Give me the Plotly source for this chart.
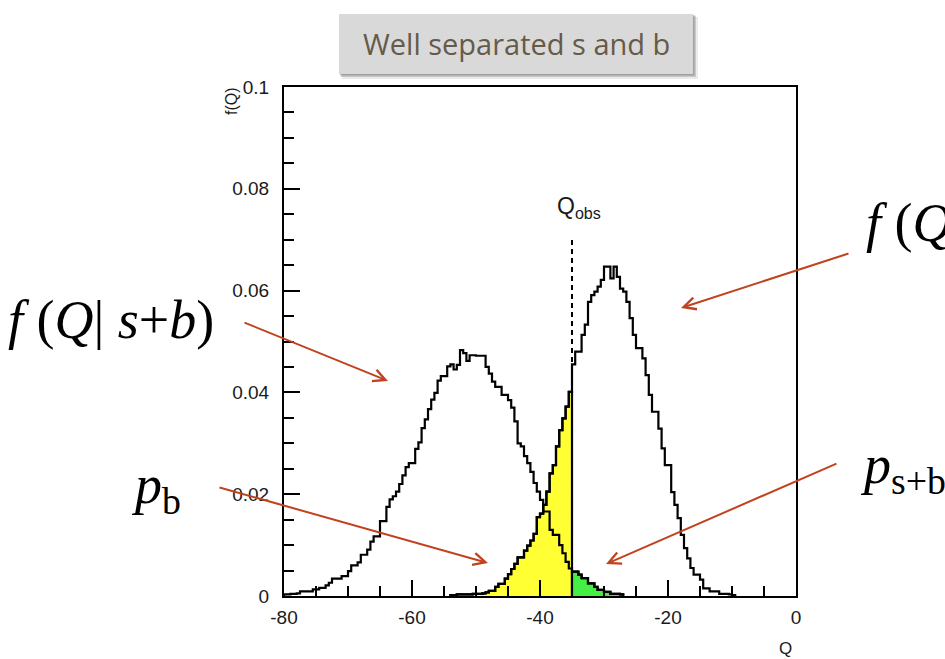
import numpy as np
import plotly.graph_objects as go

# ---------------- data ----------------
bin_width = 0.5
q_obs = -35.0
qobs_line_top = 0.070

# f(Q|s+b): bins start at Q = -80, values in units of 1e-3
sb_start = -80.0
sb_vals_milli = [
    0.3, 0.3, 0.4, 0.4, 0.5, 0.9, 0.9, 0.9, 0.9, 1.3,
    1.3, 1.6, 1.6, 2.1, 2.6, 3.4, 3.4, 3.4, 3.9, 3.9,
    4.9, 6.0, 6.0, 6.6, 8.1, 8.1, 9.1, 10.7, 11.7, 11.7,
    14.7, 14.7, 17.5, 19.0, 19.6, 20.5, 22.0, 23.7, 25.3, 26.1,
    26.1, 28.9, 30.2, 33.0, 34.7, 36.7, 38.6, 39.9, 42.3, 43.2,
    43.2, 45.1, 45.5, 44.5, 45.4, 48.3, 47.7, 46.2, 47.3, 47.3,
    47.2, 47.2, 47.2, 45.0, 43.7, 42.1, 41.1, 41.1, 39.5, 39.5,
    38.5, 37.0, 34.3, 30.0, 29.4, 27.5, 26.1, 24.4, 22.2, 20.5,
    18.9, 16.6, 16.6, 13.0, 12.0, 12.0, 10.0, 8.4, 6.7, 5.4,
    4.8, 4.8, 4.2, 3.5, 3.5, 2.5, 2.5, 1.8, 1.2, 1.2,
    0.8, 0.8, 0.4, 0.4, 0.4, 0.3,
]

# f(Q|b): bins start at Q = -54, values in units of 1e-3
b_start = -54.0
b_vals_milli = [
    0.2, 0.2, 0.3, 0.3, 0.3, 0.3, 0.3, 0.4, 0.4, 0.4,
    0.5, 0.7, 1.0, 1.0, 1.8, 2.4, 2.4, 3.4, 4.3, 5.3,
    6.3, 7.6, 7.6, 8.9, 9.9, 10.9, 12.2, 15.5, 16.2, 17.9,
    20.5, 24.1, 25.7, 29.4, 32.6, 34.9, 37.2, 40.1, 45.5, 48.0,
    48.0, 51.3, 53.3, 57.8, 59.1, 59.8, 60.8, 62.1, 64.7, 64.7,
    62.4, 64.7, 62.7, 60.4, 59.8, 57.8, 54.6, 51.3, 48.7, 48.7,
    46.7, 43.4, 39.5, 36.2, 36.2, 32.9, 29.0, 25.7, 25.7, 20.4,
    17.9, 15.3, 12.0, 9.4, 7.4, 5.5, 4.2, 4.2, 3.2, 1.5,
    1.5, 0.9, 0.9, 0.9, 0.4, 0.4, 0.4, 0.3, 0.2,
]

x_tickvals = [-80, -60, -40, -20, 0]
x_ticktext = ["-80", "-60", "-40", "-20", "0"]
y_tickvals = [0, 0.02, 0.04, 0.06, 0.08, 0.1]
y_ticktext = ["0", "0.02", "0.04", "0.06", "0.08", "0.1"]

title_text = "Well separated s and b"

# ---------------- helpers ----------------
W, H = 945, 659
PL, PR, PT, PB = 284, 796, 87, 596


def px(x):
    return (x - PL) / (PR - PL)


def py(y):
    return (PB - y) / (PB - PT)


def step_xy(start, vals):
    v = np.asarray(vals, dtype=float) / 1000.0
    e = start + bin_width * np.arange(len(v) + 1)
    xs = np.concatenate([[e[0]], e[:-1], [e[-1]], [e[-1]]])
    ys = np.concatenate([[0.0], v, [v[-1]], [0.0]])
    return xs, ys, e, v


sb_x, sb_y, sb_e, sb_v = step_xy(sb_start, sb_vals_milli)
b_x, b_y, b_e, b_v = step_xy(b_start, b_vals_milli)

# yellow: b for Q < Qobs ; green: s+b for Q > Qobs
b_mask = b_e[1:] <= q_obs + 1e-9
yb_x, yb_y, _, _ = step_xy(b_start, np.asarray(b_vals_milli)[b_mask])
sb_first = int(np.argmax(sb_e[:-1] >= q_obs - 1e-9))
g_x, g_y, _, _ = step_xy(sb_e[sb_first], np.asarray(sb_vals_milli)[sb_first:])

LW = 2.2
fig = go.Figure()
fig.add_trace(go.Scatter(x=yb_x, y=yb_y, mode="lines", line=dict(shape="hv", color="black", width=LW),
                         fill="tozeroy", fillcolor="#ffff33", hoverinfo="skip", showlegend=False))
fig.add_trace(go.Scatter(x=g_x, y=g_y, mode="lines", line=dict(shape="hv", color="black", width=LW),
                         fill="tozeroy", fillcolor="#44ee44", hoverinfo="skip", showlegend=False))
fig.add_trace(go.Scatter(x=sb_x, y=sb_y, mode="lines", line=dict(shape="hv", color="black", width=LW),
                         hoverinfo="skip", showlegend=False))
fig.add_trace(go.Scatter(x=b_x, y=b_y, mode="lines", line=dict(shape="hv", color="black", width=LW),
                         hoverinfo="skip", showlegend=False))

# Qobs dashed line
fig.add_shape(type="line", xref="x", yref="y", x0=q_obs, x1=q_obs, y0=0, y1=qobs_line_top,
              line=dict(color="black", width=2, dash="5px,4px"))

# title box with shadow
for off, alpha in [(5, 0.08), (3, 0.15), (1.5, 0.2)]:
    fig.add_shape(type="rect", xref="paper", yref="paper",
                  x0=px(339 + off * 0.6), x1=px(693 + off), y0=py(74 + off), y1=py(14 + off * 0.6),
                  line=dict(width=0), fillcolor=f"rgba(0,0,0,{alpha})", layer="above")
fig.add_shape(type="rect", xref="paper", yref="paper", x0=px(339), x1=px(693), y0=py(74), y1=py(14),
              line=dict(width=0), fillcolor="#d9d9d9", layer="above")

ann = []
ann.append(dict(x=px(516), y=py(44), xref="paper", yref="paper", text=title_text, showarrow=False,
                xanchor="center", yanchor="middle",
                font=dict(family="Open Sans", size=29, color="#665a48")))

# axis titles
tick_font = dict(family="Liberation Sans", size=19, color="#1a1a1a")
ann.append(dict(x=px(231), y=py(85), xref="paper", yref="paper", text="f(Q)", showarrow=False,
                textangle=-90, xanchor="center", yanchor="top",
                font=dict(family="Liberation Sans", size=16, color="#1a1a1a")))
ann.append(dict(x=px(785), y=py(648), xref="paper", yref="paper", text="Q", showarrow=False,
                xanchor="center", yanchor="middle",
                font=dict(family="Liberation Sans", size=17, color="#1a1a1a")))
ann.append(dict(x=px(579), y=py(207), xref="paper", yref="paper", text="Q<sub>obs</sub>", showarrow=False,
                xanchor="center", yanchor="middle",
                font=dict(family="Liberation Sans", size=23, color="#1a1a1a")))

serif = "Liberation Serif"
BIG = 54
ann.append(dict(x=px(6), y=py(320), xref="paper", yref="paper",
                text="<i>f</i> (<i>Q</i>| <i>s</i>+<i>b</i>)", showarrow=False,
                xanchor="left", yanchor="middle", font=dict(family=serif, size=BIG, color="black")))
ann.append(dict(x=px(864), y=py(223), xref="paper", yref="paper",
                text="<i>f</i> (<i>Q</i>| <i>b</i>)", showarrow=False,
                xanchor="left", yanchor="middle", font=dict(family=serif, size=BIG, color="black")))
ann.append(dict(x=px(129), y=py(488), xref="paper", yref="paper",
                text="<i>p</i><sub>b</sub>", showarrow=False,
                xanchor="left", yanchor="middle", font=dict(family=serif, size=BIG, color="black")))
ann.append(dict(x=px(858), y=py(468), xref="paper", yref="paper",
                text="<i>p</i><sub>s+b</sub>", showarrow=False,
                xanchor="left", yanchor="middle", font=dict(family=serif, size=BIG, color="black")))

# arrows (head, tail) in pixels
arrow_color = "#c0431e"
for (hx, hy, tx, ty) in [(388, 381, 243, 322), (681, 308, 850, 253),
                         (488, 563, 218, 487), (606, 564, 838, 463)]:
    ann.append(dict(x=px(hx), y=py(hy), xref="paper", yref="paper", ax=tx - hx, ay=ty - hy,
                    text="", showarrow=True, arrowhead=5, arrowsize=1.2, arrowwidth=2,
                    arrowcolor=arrow_color))

fig.update_layout(
    width=W, height=H,
    margin=dict(l=PL, r=W - PR, t=PT, b=H - PB, pad=0),
    paper_bgcolor="white", plot_bgcolor="white",
    annotations=ann,
    xaxis=dict(range=[-80, 0], tickmode="array", tickvals=x_tickvals, ticktext=x_ticktext,
               ticks="inside", ticklen=16, tickwidth=1.8, tickcolor="black", ticklabelstandoff=3,
               minor=dict(tickmode="linear", tick0=-80, dtick=5, ticks="inside", ticklen=10,
                          tickwidth=1.8, tickcolor="black", showgrid=False),
               showline=True, linecolor="black", linewidth=2, mirror=True,
               showgrid=False, zeroline=False, tickfont=tick_font),
    yaxis=dict(range=[0, 0.1], tickmode="array", tickvals=y_tickvals, ticktext=y_ticktext,
               ticks="inside", ticklen=16, tickwidth=1.8, tickcolor="black", ticklabelstandoff=9,
               minor=dict(tickmode="linear", tick0=0, dtick=0.005, ticks="inside", ticklen=10,
                          tickwidth=1.8, tickcolor="black", showgrid=False),
               showline=True, linecolor="black", linewidth=2, mirror=True,
               showgrid=False, zeroline=False, tickfont=tick_font),
)

fig.write_html("out.html")
